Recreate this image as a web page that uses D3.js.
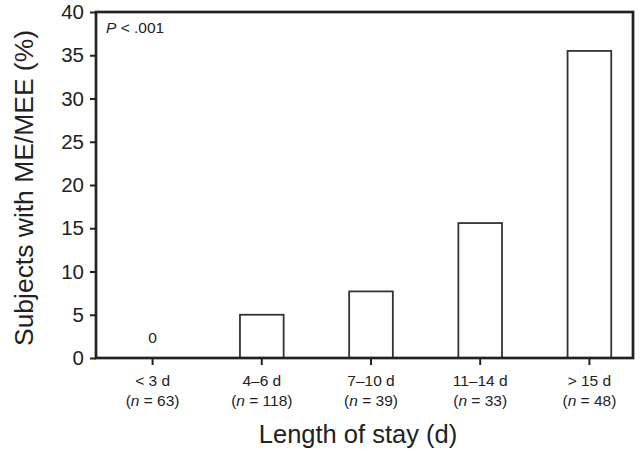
<!DOCTYPE html>
<html>
<head>
<meta charset="utf-8">
<script src="https://cdn.jsdelivr.net/npm/d3@7"></script>
<style>
  body { margin: 0; background: #fff; }
  svg text { font-family: "Liberation Sans", Arial, sans-serif; fill: #222; }
</style>
</head>
<body>
<svg id="chart" width="641" height="451"></svg>
<script>
const categories = ["< 3 d", "4–6 d", "7–10 d", "11–14 d", "> 15 d"];
const counts = [63, 118, 39, 33, 48];
const values = [0, 5.0, 7.7, 15.6, 35.5];
const yTicks = [0, 5, 10, 15, 20, 25, 30, 35, 40];

const svg = d3.select("#chart");
const plotLeft = 96, plotRight = 633, plotTop = 12, plotBottom = 358;

const x = d3.scaleBand()
  .domain(categories)
  .range([98, 644])
  .paddingInner(0.6)
  .paddingOuter(0.3);

const y = d3.scaleLinear()
  .domain([0, 40])
  .range([plotBottom, plotTop]);

const rows = categories.map((c, i) => ({ cat: c, n: counts[i], v: values[i] }));

// bars
svg.append("g")
  .selectAll("rect")
  .data(rows.filter(d => d.v > 0))
  .enter()
  .append("rect")
  .attr("x", d => x(d.cat))
  .attr("y", d => y(d.v))
  .attr("width", x.bandwidth())
  .attr("height", d => y(0) - y(d.v))
  .attr("fill", "#fff")
  .attr("stroke", "#333")
  .attr("stroke-width", 1.8);

// zero label
svg.append("g")
  .selectAll("text")
  .data(rows.filter(d => d.v === 0))
  .enter()
  .append("text")
  .attr("x", d => x(d.cat) + x.bandwidth() / 2)
  .attr("y", 342.5)
  .attr("text-anchor", "middle")
  .attr("font-size", 15.5)
  .text("0");

// frame
svg.append("rect")
  .attr("x", plotLeft)
  .attr("y", plotTop)
  .attr("width", plotRight - plotLeft)
  .attr("height", plotBottom - plotTop)
  .attr("fill", "none")
  .attr("stroke", "#222")
  .attr("stroke-width", 2.7);

// y axis
const yAxis = svg.append("g")
  .attr("transform", `translate(${plotLeft},0)`)
  .call(d3.axisLeft(y).tickValues(yTicks).tickSize(6).tickPadding(6).tickFormat(d3.format("d")));
yAxis.select(".domain").remove();
yAxis.selectAll(".tick line").attr("stroke", "#222").attr("stroke-width", 2);
yAxis.selectAll(".tick text")
  .attr("font-size", 20.5)
  .attr("font-family", "Liberation Sans, Arial, sans-serif")
  .attr("fill", "#222");

// x axis
const xAxis = svg.append("g")
  .attr("transform", `translate(0,${plotBottom})`)
  .call(d3.axisBottom(x).tickSize(7).tickFormat(""));
xAxis.select(".domain").remove();
xAxis.selectAll(".tick line").attr("stroke", "#222").attr("stroke-width", 2);

const labels = svg.append("g")
  .selectAll("text")
  .data(rows)
  .enter()
  .append("text")
  .attr("text-anchor", "middle")
  .attr("font-size", 15.5);
labels.append("tspan")
  .attr("x", d => x(d.cat) + x.bandwidth() / 2)
  .attr("y", 386)
  .text(d => d.cat);
labels.append("tspan")
  .attr("x", d => x(d.cat) + x.bandwidth() / 2)
  .attr("y", 406)
  .each(function(d) {
    const t = d3.select(this);
    t.append("tspan").text("(");
    t.append("tspan").attr("font-style", "italic").text("n");
    t.append("tspan").text(" = " + d.n + ")");
  });

// titles
svg.append("text")
  .attr("x", 358)
  .attr("y", 443)
  .attr("text-anchor", "middle")
  .attr("font-size", 25.5)
  .text("Length of stay (d)");

svg.append("text")
  .attr("transform", "translate(33,188) rotate(-90)")
  .attr("text-anchor", "middle")
  .attr("font-size", 25.5)
  .attr("textLength", 316)
  .attr("lengthAdjust", "spacingAndGlyphs")
  .text("Subjects with ME/MEE (%)");

// p value
const p = svg.append("text")
  .attr("x", 106)
  .attr("y", 33)
  .attr("font-size", 15.5);
p.append("tspan").attr("font-style", "italic").text("P");
p.append("tspan").text(" < .001");
</script>
</body>
</html>
